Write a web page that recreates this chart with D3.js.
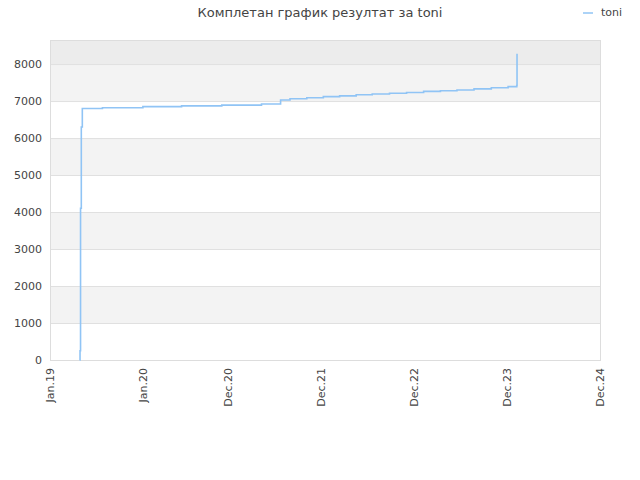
<!DOCTYPE html><html><head><meta charset="utf-8"><script src="https://cdn.jsdelivr.net/npm/d3@7"></script>
<style>body{margin:0;background:#fff}text{font-family:"DejaVu Sans",sans-serif;fill:#444}</style></head><body><svg id="c" width="640" height="480"></svg><script>
const dates=["2019-04-27","2019-04-29","2019-05-01","2019-05-04","2019-05-08","2019-07-26","2020-01-01","2020-06-01","2020-11-06","2021-04-11","2021-06-25","2021-08-01","2021-10-06","2021-12-10","2022-02-12","2022-04-18","2022-06-20","2022-08-27","2022-11-02","2023-01-08","2023-03-15","2023-05-19","2023-07-25","2023-10-01","2023-12-06","2024-01-09","2024-01-10"];
const values=[0,250,4100,6300,6800,6820,6850,6870,6890,6920,7030,7060,7090,7120,7140,7170,7190,7210,7230,7260,7280,7300,7330,7360,7390,7420,8280];
const tickDates=["2019-01-01","2020-01-01","2020-12-01","2021-12-01","2022-12-01","2023-12-01","2024-12-01"];
const tickLabels=["Jan.19","Jan.20","Dec.20","Dec.21","Dec.22","Dec.23","Dec.24"];
const yTicks=[0,1000,2000,3000,4000,5000,6000,7000,8000];
const svg=d3.select("#c"),L=50,R=600,T=40,B=360;
const p=d3.timeParse("%Y-%m-%d");
const x=d3.scaleTime().domain([p(tickDates[0]),p(tickDates[6])]).range([L,R]);
const y=d3.scaleLinear().domain([0,8650]).range([B,T]);
const bands=[[1000,2000,"#f3f3f3"],[3000,4000,"#f3f3f3"],[5000,6000,"#f3f3f3"],[7000,8000,"#f3f3f3"],[8000,8650,"#ececec"]];
svg.selectAll("rect.b").data(bands).join("rect").attr("x",L).attr("width",R-L).attr("y",d=>y(d[1])).attr("height",d=>y(d[0])-y(d[1])).attr("fill",d=>d[2]);
svg.selectAll("line.g").data(yTicks).join("line").attr("x1",L).attr("x2",R).attr("y1",d=>y(d)+.5).attr("y2",d=>y(d)+.5).attr("stroke","#e0e0e0");
svg.append("rect").attr("x",L+.5).attr("y",T+.5).attr("width",R-L).attr("height",B-T).attr("fill","none").attr("stroke","#ddd");
svg.selectAll("text.y").data(yTicks).join("text").attr("x",L-8).attr("y",d=>y(d)+4).attr("text-anchor","end").attr("font-size",11).text(d=>d);
svg.selectAll("text.x").data(tickDates).join("text").attr("font-size",11).attr("text-anchor","end")
 .attr("transform",d=>`translate(${x(p(d))+4},${B+8}) rotate(-90)`).text((d,i)=>tickLabels[i]);
const line=d3.line().x((d,i)=>x(p(dates[i]))).y(d=>y(d)).curve(d3.curveStepAfter);
svg.append("path").datum(values).attr("d",line).attr("fill","none").attr("stroke","#90c4f5").attr("stroke-width",1.6);
svg.append("text").attr("x",320).attr("y",17).attr("text-anchor","middle").attr("font-size",13).text("Комплетан график резултат за toni");
svg.append("line").attr("x1",583).attr("x2",593).attr("y1",13).attr("y2",13).attr("stroke","#90c4f5").attr("stroke-width",1.5);
svg.append("text").attr("x",601).attr("y",16).attr("font-size",11).text("toni");
</script></body></html>
